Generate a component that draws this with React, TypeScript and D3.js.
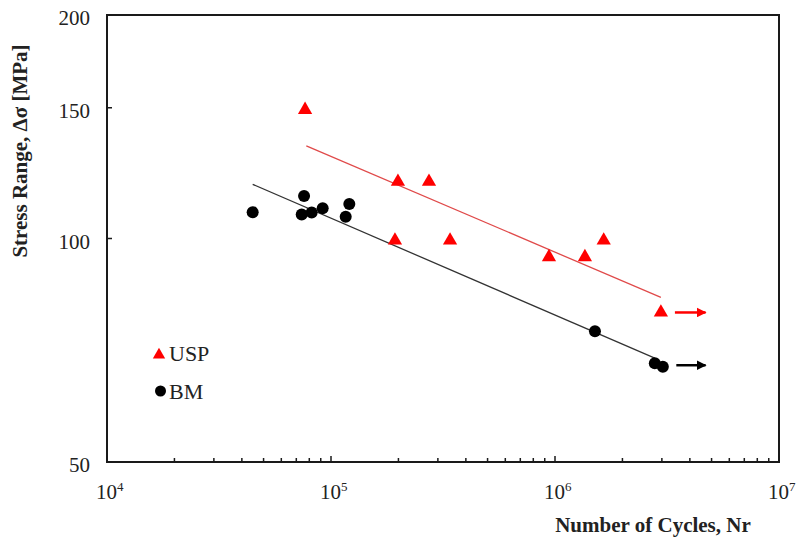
import * as d3 from "d3";

// S-N data (cycles, stress range in MPa)
const uspCycles = [76600, 199000, 273800, 193000, 340000, 940000, 1360000, 1650000, 2970000];
const uspStress = [150, 120, 120, 100, 100, 95, 95, 100, 80];
const bmCycles = [44700, 75800, 74000, 82000, 91800, 120700, 116300, 1508000, 2790000, 3030000];
const bmStress = [108.5, 114.1, 107.7, 108.4, 109.8, 111.3, 107.0, 75, 67.9, 67.2];

// fitted lines
const uspFitCycles = [77600, 2970000];
const uspFitStress = [133.3, 83.3];
const bmFitCycles = [44700, 2790000];
const bmFitStress = [118.3, 69.0];

// run-out arrows
const uspRunoutCycles = [3430000, 4700000];
const uspRunoutStress = 79.5;
const bmRunoutCycles = [3480000, 4700000];
const bmRunoutStress = 67.5;

const yTicks = [50, 100, 150, 200];
const xDecades = [1e4, 1e5, 1e6, 1e7];
const xExponents = ["4", "5", "6", "7"];

const width = 805;
const height = 548;
const margin = { top: 15, right: 26, bottom: 86, left: 107 };
const font = "'Liberation Serif', 'Times New Roman', serif";
const red = "#ff0000";
const axisColor = "#1a1a1a";

export default function App() {
  const x = d3
    .scaleLog()
    .domain([1e4, 1e7])
    .range([margin.left, width - margin.right]);
  const y = d3
    .scaleLog()
    .domain([50, 200])
    .range([height - margin.bottom, margin.top]);

  const x0 = x.range()[0];
  const x1 = x.range()[1];
  const yb = y.range()[0];
  const yt = y.range()[1];

  // minor ticks 2..9 for each decade
  const minorTicks: number[] = [];
  for (let d = 0; d < 3; d++) {
    for (let k = 2; k <= 9; k++) minorTicks.push(xDecades[d] * k);
  }

  const tri = d3.symbol(d3.symbolTriangle, 88)() as string;
  const triLegend = d3.symbol(d3.symbolTriangle, 66)() as string;

  const fitPath = (ns: number[], ss: number[]) =>
    `M${x(ns[0])},${y(ss[0])}L${x(ns[1])},${y(ss[1])}`;

  return (
    <svg
      width={width}
      height={height}
      style={{ position: "absolute", left: 0, top: 0, background: "#fff" }}
    >
      <defs>
        <marker id="arrRed" viewBox="0 0 10 10" refX="9" refY="5" markerWidth="4" markerHeight="4" orient="auto">
          <path d="M0,0L10,5L0,10z" fill={red} />
        </marker>
        <marker id="arrBlack" viewBox="0 0 10 10" refX="9" refY="5" markerWidth="4" markerHeight="4" orient="auto">
          <path d="M0,0L10,5L0,10z" fill="#000" />
        </marker>
      </defs>

      {/* frame */}
      <rect
        x={x0}
        y={yt}
        width={x1 - x0}
        height={yb - yt}
        fill="none"
        stroke={axisColor}
        strokeWidth={2}
      />

      {/* x ticks */}
      {xDecades.map((d) => (
        <line key={"M" + d} x1={x(d)} x2={x(d)} y1={yb} y2={yb - 6} stroke={axisColor} strokeWidth={1.5} />
      ))}
      {minorTicks.map((d) => (
        <line key={"m" + d} x1={x(d)} x2={x(d)} y1={yb} y2={yb - 4} stroke={axisColor} strokeWidth={1.5} />
      ))}
      {xDecades.map((d, i) => (
        <text key={"xl" + d} x={x(d) - 11} y={yb + 37} fontFamily={font} fontSize={21} fill="#222">
          10
          <tspan dy={-8} fontSize={13}>
            {xExponents[i]}
          </tspan>
        </text>
      ))}

      {/* y ticks */}
      {yTicks.map((t) => (
        <g key={"y" + t}>
          <line x1={x0} x2={x0 + 5} y1={y(t)} y2={y(t)} stroke={axisColor} strokeWidth={1.5} />
          <text x={90} y={y(t) + 10} textAnchor="end" fontFamily={font} fontSize={21} fill="#222">
            {t}
          </text>
        </g>
      ))}

      {/* axis titles */}
      <text
        x={653}
        y={532}
        textAnchor="middle"
        fontFamily={font}
        fontSize={21}
        fontWeight="bold"
        fill="#222"
      >
        Number of Cycles, Nr
      </text>
      <text
        transform="translate(27,151) rotate(-90)"
        textAnchor="middle"
        fontFamily={font}
        fontSize={21}
        fontWeight="bold"
        fill="#222"
      >
        Stress Range, Δσ [MPa]
      </text>

      {/* fit lines */}
      <path d={fitPath(uspFitCycles, uspFitStress)} stroke="#e04a4a" strokeWidth={1.3} fill="none" />
      <path d={fitPath(bmFitCycles, bmFitStress)} stroke="#333" strokeWidth={1.3} fill="none" />

      {/* points */}
      {bmCycles.map((n, i) => (
        <circle key={"bm" + i} cx={x(n)} cy={y(bmStress[i])} r={6} fill="#000" />
      ))}
      {uspCycles.map((n, i) => (
        <path key={"usp" + i} d={tri} transform={`translate(${x(n)},${y(uspStress[i]) + 2})`} fill={red} />
      ))}

      {/* run-out arrows */}
      <line
        x1={x(uspRunoutCycles[0])}
        x2={x(uspRunoutCycles[1])}
        y1={y(uspRunoutStress)}
        y2={y(uspRunoutStress)}
        stroke={red}
        strokeWidth={2.5}
        markerEnd="url(#arrRed)"
      />
      <line
        x1={x(bmRunoutCycles[0])}
        x2={x(bmRunoutCycles[1])}
        y1={y(bmRunoutStress)}
        y2={y(bmRunoutStress)}
        stroke="#000"
        strokeWidth={2.5}
        markerEnd="url(#arrBlack)"
      />

      {/* legend */}
      <path d={triLegend} transform="translate(159,355)" fill={red} />
      <text x={169} y={361} fontFamily={font} fontSize={22} fill="#222">
        USP
      </text>
      <circle cx={160.5} cy={391} r={5.5} fill="#000" />
      <text x={169} y={399} fontFamily={font} fontSize={22} fill="#222">
        BM
      </text>
    </svg>
  );
}
